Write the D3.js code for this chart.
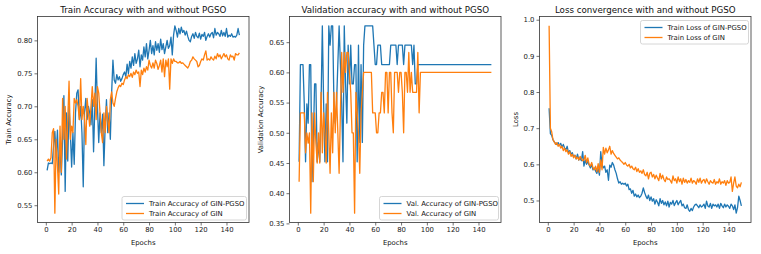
<!DOCTYPE html>
<html>
<head>
<meta charset="utf-8">
<script src="https://cdn.jsdelivr.net/npm/d3@7"></script>
<style>
  body { margin: 0; background: #fff; }
  svg { font-family: "DejaVu Sans", sans-serif; }
  .tick text { fill: #222; }
</style>
</head>
<body>
<svg id="chart" width="761" height="254"></svg>
<script>
// ----- DATA -----
var epochs = d3.range(1, 151);

var trainAccPgso = [
  0.603, 0.614, 0.613, 0.614, 0.613, 0.640, 0.662, 0.622, 0.664, 0.600,
  0.634, 0.596, 0.650, 0.716, 0.571, 0.690, 0.617, 0.700, 0.660, 0.608,
  0.660, 0.612, 0.690, 0.720, 0.725, 0.680, 0.700, 0.660, 0.578, 0.690,
  0.712, 0.680, 0.700, 0.690, 0.672, 0.710, 0.631, 0.700, 0.773, 0.700,
  0.645, 0.690, 0.660, 0.688, 0.610, 0.670, 0.710, 0.660, 0.690, 0.650,
  0.720, 0.770, 0.740, 0.735, 0.748, 0.740, 0.745, 0.738, 0.742, 0.748,
  0.752, 0.745, 0.764, 0.750, 0.768, 0.758, 0.775, 0.762, 0.780, 0.765,
  0.772, 0.785, 0.760, 0.778, 0.770, 0.790, 0.775, 0.795, 0.772, 0.785,
  0.800, 0.780, 0.792, 0.778, 0.798, 0.785, 0.795, 0.782, 0.802, 0.786,
  0.795, 0.780, 0.790, 0.800, 0.788, 0.792, 0.805, 0.778, 0.808, 0.822,
  0.815, 0.805, 0.818, 0.810, 0.820, 0.812, 0.815, 0.808, 0.814, 0.806,
  0.800, 0.798, 0.806, 0.810, 0.803, 0.812, 0.806, 0.804, 0.811, 0.802,
  0.809, 0.806, 0.812, 0.800, 0.806, 0.810, 0.805, 0.810, 0.812, 0.804,
  0.818, 0.808, 0.812, 0.810, 0.806, 0.815, 0.807, 0.812, 0.806, 0.818,
  0.805, 0.808, 0.806, 0.810, 0.805, 0.806, 0.805, 0.808, 0.818, 0.808
];
var trainAccGin = [
  0.617, 0.620, 0.617, 0.622, 0.660, 0.666, 0.538, 0.650, 0.610, 0.567,
  0.670, 0.600, 0.712, 0.650, 0.700, 0.620, 0.680, 0.738, 0.650, 0.670,
  0.660, 0.712, 0.705, 0.710, 0.700, 0.680, 0.742, 0.680, 0.700, 0.680,
  0.642, 0.712, 0.690, 0.670, 0.700, 0.730, 0.700, 0.720, 0.680, 0.730,
  0.720, 0.690, 0.660, 0.645, 0.690, 0.660, 0.700, 0.680, 0.660, 0.710,
  0.722, 0.705, 0.700, 0.712, 0.722, 0.728, 0.732, 0.730, 0.735, 0.733,
  0.740, 0.745, 0.742, 0.748, 0.745, 0.750, 0.744, 0.752, 0.748, 0.755,
  0.750, 0.752, 0.730, 0.755, 0.748, 0.758, 0.752, 0.760, 0.755, 0.770,
  0.762, 0.758, 0.766, 0.758, 0.770, 0.765, 0.756, 0.762, 0.770, 0.752,
  0.772, 0.745, 0.770, 0.760, 0.772, 0.726, 0.772, 0.765, 0.772, 0.768,
  0.768, 0.766, 0.766, 0.768, 0.765, 0.766, 0.764, 0.762, 0.760, 0.758,
  0.762, 0.768, 0.770, 0.775, 0.772, 0.770, 0.768, 0.760, 0.762, 0.768,
  0.772, 0.770, 0.778, 0.784, 0.770, 0.772, 0.770, 0.775, 0.772, 0.770,
  0.776, 0.772, 0.780, 0.775, 0.778, 0.772, 0.776, 0.780, 0.775, 0.778,
  0.772, 0.770, 0.778, 0.775, 0.776, 0.770, 0.780, 0.778, 0.778, 0.781
];

var valAccPgso = [
  0.452, 0.613, 0.613, 0.613, 0.548, 0.452, 0.548, 0.516, 0.613, 0.613,
  0.419, 0.484, 0.581, 0.581, 0.452, 0.484, 0.452, 0.548, 0.677, 0.548,
  0.452, 0.548, 0.452, 0.677, 0.645, 0.677, 0.677, 0.548, 0.516, 0.548,
  0.613, 0.677, 0.613, 0.548, 0.452, 0.677, 0.581, 0.516, 0.645, 0.581,
  0.645, 0.581, 0.581, 0.613, 0.613, 0.452, 0.645, 0.484, 0.613, 0.484,
  0.645, 0.677, 0.677, 0.677, 0.677, 0.677, 0.677, 0.677, 0.645, 0.613,
  0.613, 0.645, 0.645, 0.645, 0.613, 0.613, 0.613, 0.613, 0.613, 0.613,
  0.613, 0.645, 0.645, 0.645, 0.645, 0.645, 0.613, 0.645, 0.645, 0.645,
  0.645, 0.613, 0.645, 0.645, 0.645, 0.645, 0.645, 0.645, 0.613, 0.645,
  0.581, 0.581, 0.613, 0.613, 0.613, 0.613, 0.613, 0.613, 0.613, 0.613,
  0.613, 0.613, 0.613, 0.613, 0.613, 0.613, 0.613, 0.613, 0.613, 0.613,
  0.613, 0.613, 0.613, 0.613, 0.613, 0.613, 0.613, 0.613, 0.613, 0.613,
  0.613, 0.613, 0.613, 0.613, 0.613, 0.613, 0.613, 0.613, 0.613, 0.613,
  0.613, 0.613, 0.613, 0.613, 0.613, 0.613, 0.613, 0.613, 0.613, 0.613,
  0.613, 0.613, 0.613, 0.613, 0.613, 0.613, 0.613, 0.613, 0.613, 0.613
];
var valAccGin = [
  0.419, 0.533, 0.533, 0.533, 0.533, 0.467, 0.500, 0.483, 0.500, 0.367,
  0.533, 0.419, 0.533, 0.483, 0.450, 0.500, 0.450, 0.567, 0.467, 0.533,
  0.500, 0.450, 0.567, 0.500, 0.433, 0.533, 0.467, 0.567, 0.500, 0.567,
  0.500, 0.433, 0.533, 0.633, 0.567, 0.633, 0.600, 0.633, 0.633, 0.600,
  0.567, 0.500, 0.500, 0.367, 0.567, 0.533, 0.500, 0.433, 0.533, 0.567,
  0.600, 0.600, 0.600, 0.600, 0.600, 0.600, 0.600, 0.533, 0.533, 0.533,
  0.500, 0.500, 0.533, 0.533, 0.567, 0.567, 0.533, 0.600, 0.600, 0.533,
  0.600, 0.600, 0.533, 0.500, 0.600, 0.600, 0.600, 0.567, 0.600, 0.600,
  0.567, 0.500, 0.600, 0.600, 0.567, 0.633, 0.567, 0.600, 0.567, 0.567,
  0.567, 0.567, 0.633, 0.533, 0.600, 0.600, 0.600, 0.600, 0.600, 0.600,
  0.600, 0.600, 0.600, 0.600, 0.600, 0.600, 0.600, 0.600, 0.600, 0.600,
  0.600, 0.600, 0.600, 0.600, 0.600, 0.600, 0.600, 0.600, 0.600, 0.600,
  0.600, 0.600, 0.600, 0.600, 0.600, 0.600, 0.600, 0.600, 0.600, 0.600,
  0.600, 0.600, 0.600, 0.600, 0.600, 0.600, 0.600, 0.600, 0.600, 0.600,
  0.600, 0.600, 0.600, 0.600, 0.600, 0.600, 0.600, 0.600, 0.600, 0.600
];

var lossPgso = [
  0.755, 0.685, 0.680, 0.668, 0.662, 0.658, 0.655, 0.660, 0.652, 0.658,
  0.648, 0.655, 0.645, 0.640, 0.650, 0.632, 0.638, 0.628, 0.632, 0.620,
  0.625, 0.615, 0.628, 0.612, 0.618, 0.610, 0.635, 0.595, 0.612, 0.600,
  0.608, 0.598, 0.590, 0.600, 0.585, 0.590, 0.582, 0.575, 0.588, 0.570,
  0.635, 0.600, 0.590, 0.595, 0.578, 0.585, 0.556, 0.598, 0.592, 0.605,
  0.598, 0.585, 0.575, 0.560, 0.548, 0.552, 0.545, 0.548, 0.545, 0.548,
  0.540, 0.545, 0.530, 0.532, 0.520, 0.528, 0.512, 0.518, 0.510, 0.515,
  0.508, 0.512, 0.520, 0.535, 0.522, 0.512, 0.505, 0.515, 0.500, 0.510,
  0.498, 0.505, 0.490, 0.502, 0.495, 0.485, 0.505, 0.492, 0.500, 0.488,
  0.496, 0.485, 0.498, 0.482, 0.495, 0.490, 0.500, 0.486, 0.494, 0.500,
  0.488, 0.495, 0.500, 0.485, 0.490, 0.480, 0.478, 0.488, 0.475, 0.470,
  0.478, 0.472, 0.482, 0.488, 0.490, 0.485, 0.480, 0.488, 0.482, 0.485,
  0.490, 0.478, 0.498, 0.485, 0.482, 0.492, 0.478, 0.490, 0.485, 0.488,
  0.482, 0.490, 0.478, 0.492, 0.485, 0.480, 0.490, 0.482, 0.488, 0.484,
  0.478, 0.490, 0.485, 0.475, 0.488, 0.465, 0.480, 0.512, 0.500, 0.485
];
var lossGin = [
  0.983, 0.700, 0.690, 0.668, 0.662, 0.655, 0.660, 0.650, 0.655, 0.645,
  0.650, 0.638, 0.645, 0.635, 0.640, 0.628, 0.635, 0.622, 0.628, 0.618,
  0.625, 0.615, 0.620, 0.612, 0.622, 0.615, 0.610, 0.612, 0.625, 0.605,
  0.618, 0.600, 0.595, 0.605, 0.590, 0.585, 0.595, 0.580, 0.602, 0.578,
  0.612, 0.585, 0.647, 0.628, 0.645, 0.632, 0.640, 0.650, 0.628, 0.638,
  0.630, 0.625, 0.620, 0.615, 0.618, 0.612, 0.608, 0.605, 0.600, 0.605,
  0.598, 0.595, 0.600, 0.590, 0.595, 0.588, 0.585, 0.592, 0.580, 0.588,
  0.578, 0.582, 0.575, 0.585, 0.572, 0.568, 0.578, 0.560, 0.575, 0.578,
  0.565, 0.572, 0.560, 0.570, 0.562, 0.555, 0.575, 0.560, 0.570, 0.558,
  0.552, 0.565, 0.558, 0.560, 0.555, 0.548, 0.568, 0.555, 0.560, 0.548,
  0.565, 0.552, 0.560, 0.545, 0.562, 0.550, 0.558, 0.548, 0.555, 0.550,
  0.562, 0.548, 0.555, 0.552, 0.545, 0.560, 0.550, 0.562, 0.548, 0.555,
  0.558, 0.548, 0.560, 0.552, 0.545, 0.555, 0.550, 0.548, 0.558, 0.545,
  0.552, 0.548, 0.560, 0.545, 0.552, 0.548, 0.555, 0.542, 0.555, 0.548,
  0.550, 0.565, 0.525, 0.548, 0.565, 0.540, 0.535, 0.545, 0.538, 0.550
];

var xTicks = [0, 20, 40, 60, 80, 100, 120, 140];
var panels = [
  { title: "Train Accuracy with and without PGSO", ylabel: "Train Accuracy",
    a: trainAccPgso, b: trainAccGin,
    names: ["Train Accuracy of GIN-PGSO", "Train Accuracy of GIN"],
    yTicks: [0.55, 0.60, 0.65, 0.70, 0.75, 0.80], fmt: ".2f", legend: "lr" },
  { title: "Validation accuracy with and without PGSO", ylabel: "Validation Accuracy",
    a: valAccPgso, b: valAccGin,
    names: ["Val. Accuracy of GIN-PGSO", "Val. Accuracy of GIN"],
    yTicks: [0.35, 0.40, 0.45, 0.50, 0.55, 0.60, 0.65], fmt: ".2f", legend: "lr" },
  { title: "Loss convergence with and without PGSO", ylabel: "Loss",
    a: lossPgso, b: lossGin,
    names: ["Train Loss of GIN-PGSO", "Train Loss of GIN"],
    yTicks: [0.5, 0.6, 0.7, 0.8, 0.9, 1.0], fmt: ".1f", legend: "ur" }
];

var colors = ["#1f77b4", "#ff7f0e"];
var lefts = [37.5, 289.5, 539.5];
var plotW = 211.5, plotTop = 16.5, plotH = 206;

var svg = d3.select("#chart");

// matplotlib style 5% padding
function padded(ext) {
  var r = ext[1] - ext[0];
  return [ext[0] - r * 0.05, ext[1] + r * 0.05];
}

panels.forEach(function(p, i) {
  var g = svg.append("g").attr("transform", "translate(" + lefts[i] + "," + plotTop + ")");

  var x = d3.scaleLinear().domain(padded([1, 150])).range([0, plotW]);
  var y = d3.scaleLinear()
      .domain(padded(d3.extent(p.a.concat(p.b))))
      .range([plotH, 0]);

  var line = d3.line()
      .x(function(d, k) { return x(epochs[k]); })
      .y(function(d) { return y(d); });

  [p.a, p.b].forEach(function(s, k) {
    g.append("path")
      .datum(s)
      .attr("fill", "none")
      .attr("stroke", colors[k])
      .attr("stroke-width", 1.3)
      .attr("stroke-linejoin", "round")
      .attr("d", line);
  });

  // frame
  g.append("rect")
    .attr("width", plotW).attr("height", plotH)
    .attr("fill", "none").attr("stroke", "#333").attr("stroke-width", 0.8);

  var xa = g.append("g").attr("transform", "translate(0," + plotH + ")")
    .call(d3.axisBottom(x).tickValues(xTicks).tickSize(3).tickPadding(2));
  var ya = g.append("g")
    .call(d3.axisLeft(y).tickValues(p.yTicks).tickFormat(d3.format(p.fmt)).tickSize(3).tickPadding(2));
  [xa, ya].forEach(function(a) {
    a.select(".domain").remove();
    a.selectAll(".tick line").attr("stroke", "#333").attr("stroke-width", 0.7);
    a.selectAll(".tick text").style("font-size", "6.9px").style("font-family", "DejaVu Sans");
  });

  g.append("text")
    .attr("x", plotW / 2).attr("y", -4)
    .attr("text-anchor", "middle")
    .style("font-size", "8.7px").attr("fill", "#111")
    .text(p.title);

  g.append("text")
    .attr("x", plotW / 2).attr("y", plotH + 22)
    .attr("text-anchor", "middle")
    .style("font-size", "6.9px").attr("fill", "#111")
    .text("Epochs");

  var ylx = i == 2 ? -21.5 : -26.5;
  g.append("text")
    .attr("transform", "translate(" + ylx + "," + (plotH / 2) + ") rotate(-90)")
    .attr("text-anchor", "middle")
    .style("font-size", "6.9px").attr("fill", "#111")
    .text(p.ylabel);

  // ----- LEGEND -----
  var lw = i == 2 ? 108 : (i == 1 ? 119 : 124.5), lh = 23.5;
  var lx = plotW - lw - 2.5;
  var ly = p.legend == "ur" ? 4 : plotH - lh - 2.5;
  var leg = g.append("g").attr("transform", "translate(" + lx + "," + ly + ")");
  leg.append("rect")
    .attr("width", lw).attr("height", lh).attr("rx", 2)
    .attr("fill", "#fff").attr("fill-opacity", 0.8)
    .attr("stroke", "#ccc").attr("stroke-width", 0.8);
  p.names.forEach(function(n, k) {
    var yy = 7 + k * 10;
    leg.append("line")
      .attr("x1", 4).attr("x2", 22).attr("y1", yy).attr("y2", yy)
      .attr("stroke", colors[k]).attr("stroke-width", 1.3);
    leg.append("text")
      .attr("x", 27).attr("y", yy + 2.4)
      .style("font-size", "6.9px").attr("fill", "#111")
      .text(n);
  });
});
</script>
</body>
</html>
